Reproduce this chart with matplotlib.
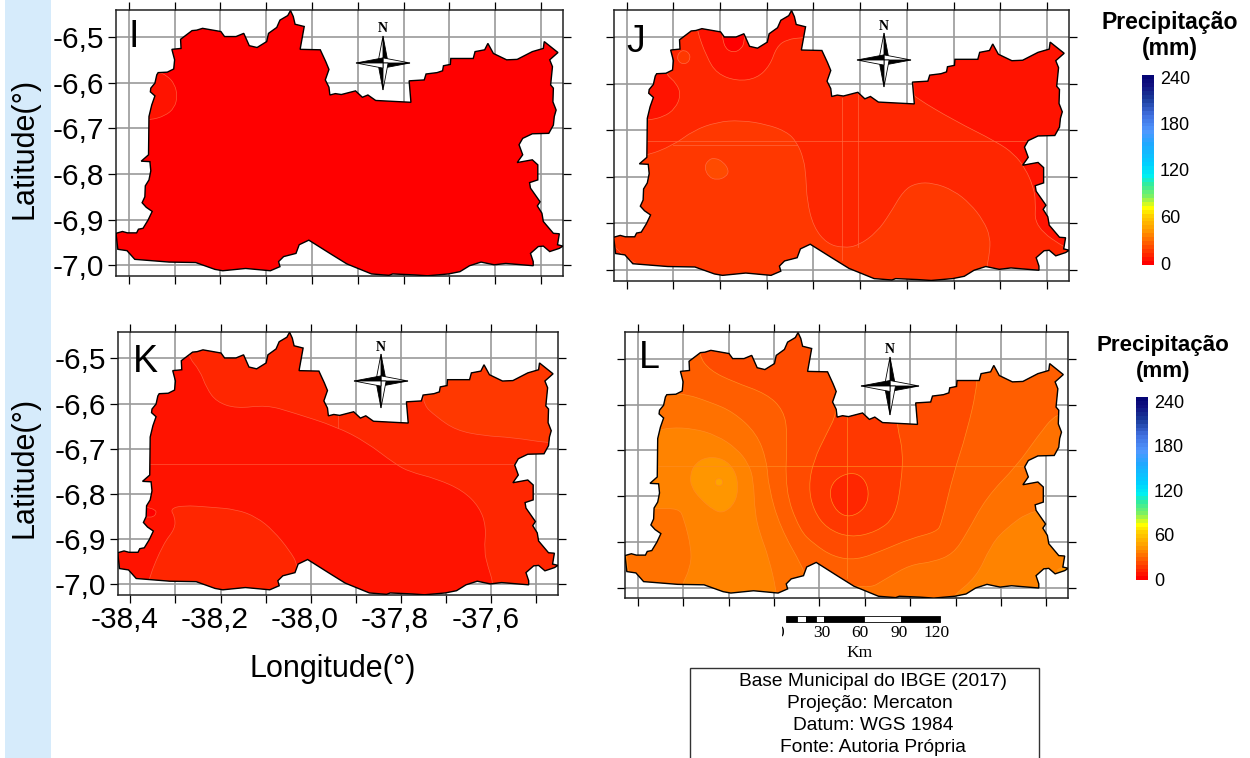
import numpy as np
import matplotlib
matplotlib.use('Agg')
import matplotlib.pyplot as plt
from matplotlib.colors import ListedColormap, BoundaryNorm, to_rgb
from matplotlib.patches import Polygon, Rectangle, PathPatch
from matplotlib.path import Path
from matplotlib.transforms import Affine2D, Bbox, ScaledTranslation

plt.rcParams['font.family'] = ['Liberation Sans', 'DejaVu Sans']

W, H = 1250, 758

# municipal outline (lon, lat)
map_lon = [-38.428, -38.414, -38.403, -38.383, -38.379, -38.369, -38.358, -38.349, -38.362, -38.371, -38.365, -38.364,
           -38.356, -38.352, -38.354, -38.373, -38.357, -38.356, -38.350, -38.343, -38.353, -38.352, -38.343, -38.339,
           -38.336, -38.316, -38.302, -38.300, -38.306, -38.286, -38.287, -38.262, -38.252, -38.239, -38.199, -38.191,
           -38.166, -38.149, -38.137, -38.120, -38.099, -38.095, -38.077, -38.070, -38.053, -38.047, -38.041, -38.037,
           -38.017, -38.026, -37.982, -37.970, -37.963, -37.971, -37.963, -37.961, -37.949, -37.936, -37.905, -37.890,
           -37.878, -37.861, -37.784, -37.788, -37.755, -37.751, -37.727, -37.715, -37.713, -37.698, -37.697, -37.648,
           -37.644, -37.623, -37.616, -37.604, -37.575, -37.552, -37.519, -37.495, -37.493, -37.463, -37.481, -37.475,
           -37.479, -37.473, -37.474, -37.467, -37.471, -37.473, -37.483, -37.519, -37.540, -37.548, -37.540, -37.552,
           -37.519, -37.507, -37.507, -37.525, -37.523, -37.502, -37.508, -37.498, -37.495, -37.473, -37.460, -37.464,
           -37.452, -37.460, -37.481, -37.495, -37.506, -37.523, -37.517, -37.517, -37.577, -37.602, -37.631, -37.656,
           -37.677, -37.702, -37.748, -37.778, -37.824, -37.832, -37.870, -37.924, -37.961, -38.007, -38.028, -38.035,
           -38.062, -38.073, -38.070, -38.091, -38.145, -38.195, -38.212, -38.254, -38.312, -38.387, -38.404, -38.424]
map_lat = [-6.930, -6.926, -6.929, -6.929, -6.921, -6.919, -6.901, -6.882, -6.873, -6.863, -6.850, -6.826,
           -6.813, -6.793, -6.773, -6.772, -6.758, -6.674, -6.649, -6.629, -6.620, -6.612, -6.601, -6.583,
           -6.578, -6.577, -6.570, -6.550, -6.527, -6.525, -6.505, -6.486, -6.485, -6.481, -6.488, -6.499,
           -6.499, -6.492, -6.519, -6.523, -6.510, -6.492, -6.479, -6.463, -6.453, -6.442, -6.455, -6.472,
           -6.477, -6.527, -6.528, -6.554, -6.571, -6.594, -6.610, -6.627, -6.624, -6.626, -6.618, -6.632,
           -6.627, -6.639, -6.643, -6.596, -6.594, -6.581, -6.578, -6.574, -6.563, -6.560, -6.547, -6.547,
           -6.532, -6.528, -6.514, -6.536, -6.550, -6.549, -6.532, -6.525, -6.510, -6.534, -6.550, -6.565,
           -6.605, -6.612, -6.642, -6.660, -6.674, -6.693, -6.711, -6.712, -6.722, -6.736, -6.758, -6.775,
           -6.769, -6.780, -6.813, -6.819, -6.831, -6.861, -6.870, -6.886, -6.904, -6.930, -6.931, -6.955,
           -6.958, -6.963, -6.970, -6.958, -6.959, -6.974, -6.992, -7.001, -6.996, -6.999, -6.993, -7.001,
           -7.014, -7.019, -7.023, -7.021, -7.019, -7.022, -7.019, -6.997, -6.974, -6.945, -6.955, -6.974,
           -6.981, -6.992, -7.003, -7.012, -7.007, -7.012, -7.009, -6.994, -6.993, -6.987, -6.968, -6.965]

# panel I regions
i_base = 2.5
i_w_lon = [-38.336, -38.316, -38.300, -38.294, -38.300, -38.321, -38.354, -38.380, -38.380]
i_w_lat = [-6.576, -6.585, -6.603, -6.629, -6.655, -6.673, -6.682, -6.680, -6.590]

# panel J regions
j_base = 12.5
j_ne_lon = [-37.786, -37.782, -37.700, -37.607, -37.571, -37.546, -37.529, -37.524, -37.526, -37.454, -37.421, -37.421, -37.786]
j_ne_lat = [-6.621, -6.629, -6.678, -6.725, -6.750, -6.782, -6.822, -6.851, -6.908, -6.958, -6.966, -6.463, -6.463]
j_n_lon = [-38.250, -38.229, -38.207, -38.164, -38.121, -38.093, -38.079, -38.057, -38.021, -38.000, -38.000, -38.257]
j_n_lat = [-6.484, -6.542, -6.578, -6.594, -6.588, -6.560, -6.520, -6.504, -6.500, -6.500, -6.434, -6.434]
j_nn_lon = [-38.195, -38.195, -38.189, -38.171, -38.154, -38.148, -38.148, -38.195]
j_nn_lat = [-6.495, -6.500, -6.524, -6.533, -6.524, -6.509, -6.484, -6.484]
j_w_lon = [-38.316, -38.293, -38.284, -38.296, -38.321, -38.354, -38.371, -38.371, -38.316]
j_w_lat = [-6.579, -6.599, -6.624, -6.653, -6.671, -6.678, -6.678, -6.563, -6.563]
j_s_lon = [-38.364, -38.300, -38.257, -38.207, -38.157, -38.100, -38.057, -38.036, -38.021, -38.016, -38.014, -38.000,
           -37.971, -37.936, -37.904, -37.864, -37.836, -37.807, -37.779, -37.743, -37.700, -37.664, -37.636, -37.621,
           -37.623, -37.629, -37.629, -38.443, -38.443]
j_s_lat = [-6.757, -6.732, -6.700, -6.682, -6.678, -6.687, -6.703, -6.725, -6.761, -6.800, -6.851, -6.908,
           -6.944, -6.953, -6.948, -6.919, -6.879, -6.829, -6.813, -6.813, -6.829, -6.858, -6.894, -6.930,
           -6.966, -6.994, -7.037, -7.037, -6.761]
j_oval_lon = [-38.234, -38.225, -38.211, -38.193, -38.181, -38.187, -38.207, -38.225]
j_oval_lat = [-6.779, -6.763, -6.759, -6.768, -6.786, -6.800, -6.807, -6.800]
j_dot_lon = [-38.292, -38.287, -38.277, -38.266, -38.264, -38.270, -38.280, -38.289]
j_dot_lat = [-6.542, -6.531, -6.527, -6.534, -6.545, -6.555, -6.557, -6.552]

# panel K regions
k_base = 7.5
k_n_lon = [-38.273, -38.246, -38.231, -38.209, -38.165, -38.098, -38.039, -37.943, -37.877, -37.814, -37.781, -37.722,
           -37.663, -37.626, -37.611, -37.616, -37.607, -37.596, -37.596, -37.434, -37.434, -38.273]
k_n_lat = [-6.495, -6.526, -6.566, -6.596, -6.611, -6.603, -6.620, -6.651, -6.685, -6.733, -6.751, -6.766,
           -6.792, -6.829, -6.873, -6.925, -6.962, -6.995, -7.028, -7.028, -6.437, -6.437]
k_ne_lon = [-37.755, -37.722, -37.678, -37.618, -37.552, -37.475, -37.434, -37.434, -37.755]
k_ne_lat = [-6.598, -6.629, -6.659, -6.671, -6.675, -6.687, -6.687, -6.489, -6.489]
k_sw_lon = [-38.312, -38.283, -38.224, -38.165, -38.120, -38.083, -38.047, -38.028, -38.028, -38.364, -38.360, -38.327, -38.301, -38.301]
k_sw_lat = [-6.833, -6.825, -6.829, -6.834, -6.851, -6.881, -6.925, -6.958, -7.028, -7.028, -6.988, -6.910, -6.877, -6.851]
k_w_lon = [-38.360, -38.345, -38.342, -38.349, -38.362, -38.375, -38.375]
k_w_lat = [-6.830, -6.835, -6.842, -6.851, -6.851, -6.851, -6.829]

# panel L regions
l_base = 37.5
l_e_lon = [-38.351, -38.329, -38.277, -38.226, -38.182, -38.156, -38.145, -38.142, -38.131, -38.112, -38.094, -38.094,
           -37.419, -37.419, -38.410, -38.410]
l_e_lat = [-6.656, -6.650, -6.652, -6.667, -6.696, -6.729, -6.765, -6.838, -6.882, -6.933, -7.010, -7.042,
           -7.042, -6.430, -6.430, -6.656]
l_se_lon = [-37.709, -37.654, -37.624, -37.595, -37.529, -37.419, -37.419, -37.709]
l_se_lat = [-7.021, -6.977, -6.911, -6.875, -6.827, -6.827, -7.042, -7.042]
l_tip_lon = [-37.481, -37.463, -37.448, -37.466]
l_tip_lat = [-6.964, -6.953, -6.959, -6.971]
l_mid_lon = [-38.410, -38.303, -38.241, -38.189, -38.138, -38.116, -38.112, -38.087, -38.035, -38.035, -37.896, -37.852,
             -37.800, -37.749, -37.705, -37.676, -37.632, -37.565, -37.521, -37.477, -37.419, -37.419, -38.410]
l_mid_lat = [-6.574, -6.574, -6.594, -6.616, -6.663, -6.722, -6.780, -6.867, -6.959, -6.969, -7.006, -6.980,
             -6.950, -6.944, -6.926, -6.882, -6.802, -6.733, -6.671, -6.616, -6.616, -6.430, -6.430]
l_n_lon = [-38.266, -38.241, -38.189, -38.116, -38.079, -38.070, -38.076, -38.043, -38.013, -37.969, -37.918, -37.859,
           -37.800, -37.742, -37.731, -37.705, -37.676, -37.650, -37.650, -38.266]
l_n_lat = [-6.492, -6.525, -6.550, -6.576, -6.612, -6.663, -6.787, -6.875, -6.904, -6.933, -6.940, -6.918,
           -6.893, -6.878, -6.860, -6.751, -6.663, -6.550, -6.430, -6.430]
l_c_lon = [-37.962, -37.984, -38.013, -38.024, -38.013, -37.984, -37.932, -37.874, -37.833, -37.819, -37.816, -37.830, -37.830, -37.962]
l_c_lat = [-6.620, -6.663, -6.722, -6.780, -6.831, -6.871, -6.891, -6.878, -6.846, -6.765, -6.700, -6.643, -6.561, -6.561]
l_cc_lon = [-37.932, -37.903, -37.890, -37.899, -37.932, -37.962, -37.979, -37.969]
l_cc_lat = [-6.747, -6.758, -6.791, -6.827, -6.847, -6.835, -6.798, -6.765]
l_oval_lon = [-38.285, -38.274, -38.248, -38.211, -38.186, -38.178, -38.186, -38.211, -38.233, -38.263, -38.282]
l_oval_lat = [-6.754, -6.729, -6.714, -6.718, -6.743, -6.780, -6.816, -6.837, -6.831, -6.805, -6.780]
l_dot_lon = [-38.230, -38.227, -38.221, -38.215, -38.212, -38.215, -38.221, -38.227]
l_dot_lat = [-6.770, -6.763, -6.761, -6.763, -6.770, -6.776, -6.778, -6.776]
l_sw_lon = [-38.362, -38.310, -38.299, -38.281, -38.285, -38.303, -38.303, -38.424, -38.424]
l_sw_lat = [-6.827, -6.827, -6.846, -6.918, -6.959, -6.995, -7.021, -7.021, -6.827]

# interpolation seams: (lat, lon from, lon to) and (lon, lat from, lat to)
j_seams_h = [(-6.7227, -38.43, -37.45), (-6.732, -38.300, -38.036)]
j_seams_v = [(-37.939, -6.63, -6.98), (-37.904, -6.62, -6.95)]
k_seams_h = [(-6.733, -38.43, -37.45)]
k_seams_v = [(-37.939, -6.62, -6.655)]
l_seams_h = [(-6.733, -38.43, -37.45)]
l_seams_v = [(-37.94, -6.62, -6.98)]

# ticks
lon_ticks = [-38.4, -38.3, -38.2, -38.1, -38.0, -37.9, -37.8, -37.7, -37.6, -37.5]
lon_labels = ['-38,4', '', '-38,2', '', '-38,0', '', '-37,8', '', '-37,6', '']
lat_ticks = [-6.5, -6.6, -6.7, -6.8, -6.9, -7.0]
lat_labels = ['-6,5', '-6,6', '-6,7', '-6,8', '-6,9', '-7,0']

# colour scale
band_edges = np.arange(0, 245, 5)
bar_ticks = [0, 60, 120, 180, 240]
anchor_val = [0, 40, 60, 70, 84, 100, 110, 125, 150, 166, 187, 208, 225, 240]
anchor_col = ['#ff0000', '#ff9600', '#ffd000', '#ffff00', '#80f060', '#30eca0', '#00f0f0', '#00d0ff',
              '#20a8ff', '#5098ff', '#4070e0', '#1a3a9a', '#101080', '#000070']

anchor_rgb = np.array([to_rgb(c) for c in anchor_col])
band_rgb = np.column_stack([np.interp(band_edges[:-1], anchor_val, anchor_rgb[:, i]) for i in range(3)])
cmap = ListedColormap(band_rgb)
norm = BoundaryNorm(band_edges, cmap.N)

panels = [
    ('I', (116, 563, 10.3, 276), i_base, [(7.5, i_w_lon, i_w_lat)], [], [], '#ff5a3a', True, False),
    ('J', (613.7, 1069.3, 10.3, 280.7), j_base,
     [(7.5, j_ne_lon, j_ne_lat), (7.5, j_n_lon, j_n_lat), (2.5, j_nn_lon, j_nn_lat), (7.5, j_w_lon, j_w_lat),
      (17.5, j_s_lon, j_s_lat), (22.5, j_oval_lon, j_oval_lat), (17.5, j_dot_lon, j_dot_lat)],
     j_seams_h, j_seams_v, '#ff6a40', False, False),
    ('K', (117.7, 558, 332, 595), k_base,
     [(12.5, k_n_lon, k_n_lat), (17.5, k_ne_lon, k_ne_lat), (12.5, k_sw_lon, k_sw_lat), (2.5, k_w_lon, k_w_lat)],
     k_seams_h, k_seams_v, '#ff5a3a', True, True),
    ('L', (625, 1068.3, 332.3, 598.3), l_base,
     [(32.5, l_e_lon, l_e_lat), (37.5, l_se_lon, l_se_lat), (42.5, l_tip_lon, l_tip_lat), (27.5, l_mid_lon, l_mid_lat),
      (22.5, l_n_lon, l_n_lat), (17.5, l_c_lon, l_c_lat), (12.5, l_cc_lon, l_cc_lat), (42.5, l_oval_lon, l_oval_lat),
      (47.5, l_dot_lon, l_dot_lat), (32.5, l_sw_lon, l_sw_lat)],
     l_seams_h, l_seams_v, '#ff8c20', False, False),
]
letter_xy = {'I': (134, 37), 'J': (636, 42), 'K': (145, 362), 'L': (649, 358)}
compass_xy = {'I': (383, 63, 27), 'J': (884, 60, 27), 'K': (381, 381, 27), 'L': (890, 386, 29)}

fig = plt.figure(figsize=(W / 100, H / 100), dpi=100)
px = Affine2D().scale(1, -1).translate(0, H)


def ftext(x, y, s, **kw):
    kw.setdefault('ha', 'center')
    kw.setdefault('va', 'center')
    return fig.text(x / W, 1 - y / H, s, **kw)


def px_axes(box):
    x0, x1, y0, y1 = box
    return fig.add_axes([x0 / W, 1 - y1 / H, (x1 - x0) / W, (y1 - y0) / H])


def smooth_ring(lon, lat):
    # closed quadratic curve that uses the read points as control points
    pts = np.column_stack([lon, lat])
    mids = (pts + np.roll(pts, -1, axis=0)) / 2
    verts = [mids[-1]]
    codes = [Path.MOVETO]
    for p, m in zip(pts, mids):
        verts += [p, m]
        codes += [Path.CURVE3, Path.CURVE3]
    return Path(verts, codes)


def draw_compass(cx, cy, a):
    w = a * 0.19
    arms = [(0, -1), (1, 0), (0, 1), (-1, 0)]
    for dx, dy in arms:
        tip = (cx + dx * a, cy + dy * a)
        s1 = (cx - dy * w, cy + dx * w)
        s2 = (cx + dy * w, cy - dx * w)
        fig.add_artist(Polygon([tip, s1, (cx, cy)], closed=True, fc='black', ec='black', lw=0.6, transform=px))
        fig.add_artist(Polygon([tip, s2, (cx, cy)], closed=True, fc='white', ec='black', lw=0.6, transform=px))
    ftext(cx, cy - a - 7, 'N', family='Liberation Serif', fontweight='bold', fontsize=10)


fig.add_artist(Rectangle((5, 0), 46, H, fc='#d6ebfb', ec='none', transform=px, zorder=-5))

for name, box, base, regions, seams_h, seams_v, line_col, show_y, show_x in panels:
    ax = px_axes(box)
    ax.set_xlim(-38.428, -37.452)
    ax.set_ylim(-7.0235, -6.4415)
    ax.set_xticks(lon_ticks)
    ax.set_yticks(lat_ticks)
    ax.set_xticklabels(lon_labels if show_x else [])
    ax.set_yticklabels(lat_labels if show_y else [])
    ax.tick_params(length=5.5, width=0.9, top=True, right=True, labelsize=21.5, pad=3)
    ax.grid(True, color='#9a9a9a', lw=1.2)
    ax.set_axisbelow(True)
    for s in ax.spines.values():
        s.set_linewidth(1.1)
        s.set_color('#222222')
    if show_x:
        # labels sit a little left of their ticks in the original
        for lab in ax.get_xticklabels():
            lab.set_transform(lab.get_transform() + ScaledTranslation(-6 / 100, 1 / 100, fig.dpi_scale_trans))

    shape = Polygon(np.column_stack([map_lon, map_lat]), closed=True, fc=cmap(norm(base)), ec='none', zorder=2)
    ax.add_patch(shape)
    for value, lon, lat in regions:
        p = PathPatch(smooth_ring(lon, lat), fc=cmap(norm(value)), ec=line_col, lw=0.5, zorder=3)
        ax.add_patch(p)
        p.set_clip_path(shape)
    for y, x0, x1 in seams_h:
        ln, = ax.plot([x0, x1], [y, y], color=line_col, lw=0.6, alpha=0.8, zorder=4)
        ln.set_clip_path(shape)
    for x, y0, y1 in seams_v:
        ln, = ax.plot([x, x], [y0, y1], color=line_col, lw=0.6, alpha=0.8, zorder=4)
        ln.set_clip_path(shape)
    ax.set_xlim(-38.428, -37.452)
    ax.set_ylim(-7.0235, -6.4415)
    ax.add_patch(Polygon(np.column_stack([map_lon, map_lat]), closed=True, fc='none', ec='black', lw=1.0, zorder=5))

    lx, ly = letter_xy[name]
    ftext(lx, ly, name, fontsize=27, zorder=10)
    draw_compass(*compass_xy[name])

ftext(25, 148, 'Latitude(°)', rotation=90, fontsize=22)
ftext(25, 467, 'Latitude(°)', rotation=90, fontsize=22)
ftext(333, 669, 'Longitude(°)', fontsize=22)

# colour bars
for (x0, x1, y0, y1), lab_x, lab0, lab240, tx, ty, tsize in [((1142, 1154, 75, 265), 1160, 264, 78, 1170, 23, 16.6),
                                                             ((1136, 1148, 397, 580), 1154, 580, 402, 1163, 346, 16.1)]:
    cax = px_axes((x0, x1, y0, y1))
    cax.pcolormesh([0, 1], band_edges, np.array(band_edges[:-1] + 2.5).reshape(-1, 1), cmap=cmap, norm=norm)
    cax.axis('off')
    for v in bar_ticks:
        y = lab0 - (lab0 - lab240) * v / 240
        ftext(lab_x, y + 1, str(v), ha='left', fontsize=13)
    ftext(tx, ty, 'Precipitação', fontweight='bold', fontsize=tsize)
    ftext(tx, ty + 26, '(mm)', fontweight='bold', fontsize=tsize)

# scale bar
scale_edges = [786, 796.7, 805.7, 816, 824.3, 864, 901, 940]
for i in range(len(scale_edges) - 1):
    fig.add_artist(Rectangle((scale_edges[i], 616), scale_edges[i + 1] - scale_edges[i], 6,
                             fc='black' if i % 2 == 0 else 'white', ec='black', lw=0.6, transform=px))
for x, s in [(822, '30'), (860, '60'), (899, '90'), (937, '120')]:
    ftext(x, 633, s, family='Liberation Serif', fontsize=12.5)
zero = ftext(780, 633, '0', family='Liberation Serif', fontsize=12.5)
zero.set_clip_on(True)
zero.set_clip_box(Bbox([[782, 0], [800, H]]))
ftext(860, 653, 'Km', family='Liberation Serif', fontsize=12.5)

# source box
fig.add_artist(Rectangle((690, 668), 349, 100, fc='white', ec='#333333', lw=1, transform=px))
for y, x, s in [(682, 873, 'Base Municipal do IBGE (2017)'), (703, 870, 'Projeção: Mercaton'),
                (725, 873, 'Datum: WGS 1984'), (747, 872.5, 'Fonte: Autoria Própria')]:
    ftext(x, y, s, fontsize=13.8)

fig.savefig('out.png', dpi=100)
